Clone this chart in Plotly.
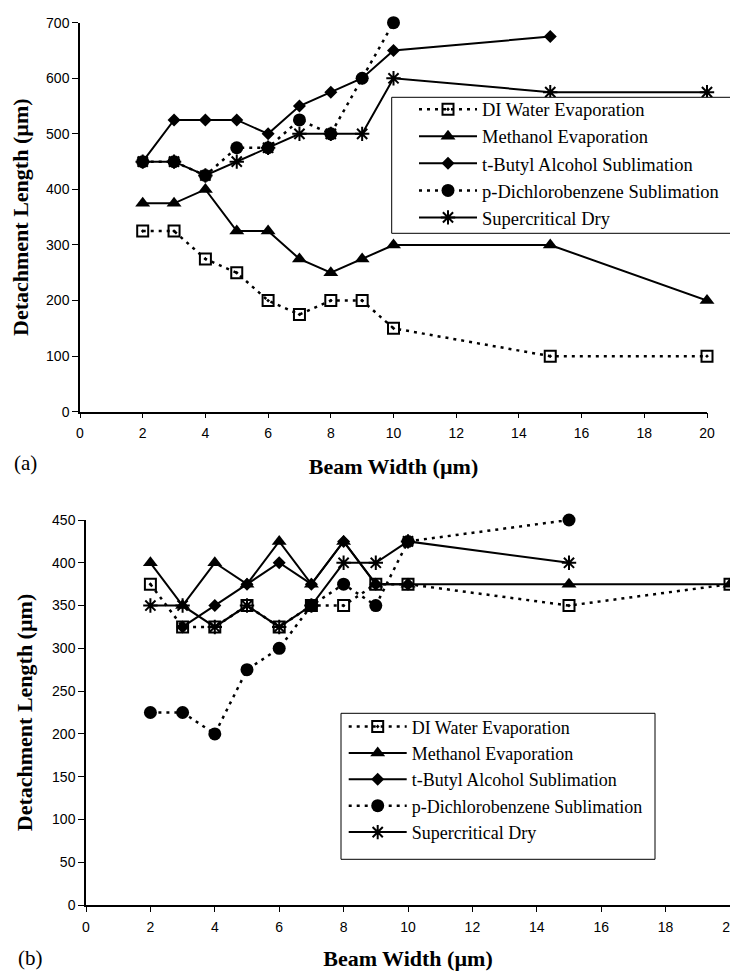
import plotly.graph_objects as go

# ---------------- data ----------------
series_names = ["DI Water Evaporation", "Methanol Evaporation", "t-Butyl Alcohol Sublimation",
                "p-Dichlorobenzene Sublimation", "Supercritical Dry"]

# (a)
a_x_full = [2, 3, 4, 5, 6, 7, 8, 9, 10, 15, 20]
a_water = [325, 325, 275, 250, 200, 175, 200, 200, 150, 100, 100]
a_methanol = [375, 375, 400, 325, 325, 275, 250, 275, 300, 300, 200]
a_tba_x = [2, 3, 4, 5, 6, 7, 8, 9, 10, 15]
a_tba = [450, 525, 525, 525, 500, 550, 575, 600, 650, 675]
a_pdcb_x = [2, 3, 4, 5, 6, 7, 8, 9, 10]
a_pdcb = [450, 450, 425, 475, 475, 525, 500, 600, 700]
a_scd = [450, 450, 425, 450, 475, 500, 500, 500, 600, 575, 575]

# (b)
b_x_full = [2, 3, 4, 5, 6, 7, 8, 9, 10, 15, 20]
b_water = [375, 325, 325, 350, 325, 350, 350, 375, 375, 350, 375]
b_methanol = [400, 350, 400, 375, 425, 375, 425, 375, 375, 375, 375]
b_tba_x = [3, 4, 5, 6, 7, 8, 9, 10]
b_tba = [325, 350, 375, 400, 375, 425, 375, 375]
b_pdcb_x = [2, 3, 4, 5, 6, 7, 8, 9, 10, 15]
b_pdcb = [225, 225, 200, 275, 300, 350, 375, 350, 425, 450]
b_scd_x = [2, 3, 4, 5, 6, 7, 8, 9, 10, 15]
b_scd = [350, 350, 325, 350, 325, 350, 400, 400, 425, 400]

x_ticks = [0, 2, 4, 6, 8, 10, 12, 14, 16, 18, 20]

# ---------------- styles ----------------
DOT = "3px,5px"
styles = [
    dict(line=dict(color="black", width=2.5, dash=DOT),
         marker=dict(symbol="square-open-dot", size=11, color="black", line=dict(width=2, color="black"))),
    dict(line=dict(color="black", width=2),
         marker=dict(symbol="triangle-up", size=13, color="black")),
    dict(line=dict(color="black", width=2),
         marker=dict(symbol="diamond", size=10, color="black")),
    dict(line=dict(color="black", width=2.5, dash=DOT),
         marker=dict(symbol="circle", size=13, color="black")),
    dict(line=dict(color="black", width=2),
         marker=dict(symbol="asterisk-open", size=12, color="black", line=dict(width=2, color="black"))),
]

# page body adds an 8px offset; figure coordinates below are screen pixels minus 8
W, H = 730, 963
OFF = 8


def px_x(p):
    return (p - OFF) / W


def px_y(p):
    return 1 - (p - OFF) / H


fig = go.Figure()

a_sets = [(a_x_full, a_water), (a_x_full, a_methanol), (a_tba_x, a_tba), (a_pdcb_x, a_pdcb), (a_x_full, a_scd)]
b_sets = [(b_x_full, b_water), (b_x_full, b_methanol), (b_tba_x, b_tba), (b_pdcb_x, b_pdcb), (b_scd_x, b_scd)]

for i, (xs, ys) in enumerate(a_sets):
    fig.add_trace(go.Scatter(x=xs, y=ys, mode="lines+markers", name=series_names[i],
                             xaxis="x", yaxis="y", legend="legend", cliponaxis=False, **styles[i]))
for i, (xs, ys) in enumerate(b_sets):
    fig.add_trace(go.Scatter(x=xs, y=ys, mode="lines+markers", name=series_names[i],
                             xaxis="x2", yaxis="y2", legend="legend2", cliponaxis=False, **styles[i]))

tickfont = dict(family="Liberation Sans, Arial, sans-serif", size=14, color="black")
titlefont = dict(family="Liberation Serif, Times New Roman, serif", size=22, color="black")
serif = "Liberation Serif, Times New Roman, serif"


def xaxis(domain, anchor):
    return dict(domain=domain, anchor=anchor, range=[0, 20], tickvals=x_ticks, automargin=False,
                showline=True, linecolor="black", linewidth=1.5, showgrid=False, zeroline=False,
                ticks="outside", ticklen=5, tickcolor="black", tickfont=tickfont, ticklabelstandoff=3,
                title=dict(text="<b>Beam Width (µm)</b>", font=titlefont, standoff=18))


def yaxis(domain, anchor, rng, dtick):
    return dict(domain=domain, anchor=anchor, range=rng, dtick=dtick, automargin=False,
                showline=True, linecolor="black", linewidth=1.5, showgrid=False, zeroline=False,
                ticks="outside", ticklen=6, tickcolor="black", tickfont=tickfont,
                title=dict(text="<b>Detachment Length (µm)</b>", font=titlefont, standoff=13))


fig.update_layout(
    width=W, height=H,
    margin=dict(l=0, r=0, t=0, b=0, autoexpand=False),
    paper_bgcolor="white", plot_bgcolor="white",
    xaxis=xaxis([px_x(80), px_x(707)], "y"),
    yaxis=yaxis([px_y(411.7), px_y(22.7)], "x", [0, 700], 100),
    xaxis2=xaxis([px_x(86), px_x(730)], "y2"),
    yaxis2=yaxis([px_y(905), px_y(520)], "x2", [0, 450], 50),
    legend=dict(x=px_x(414), y=px_y(90.7), xanchor="left", yanchor="top",
                bgcolor="rgba(0,0,0,0)", borderwidth=0,
                font=dict(family=serif, size=18.5, color="black"), itemwidth=58, tracegroupgap=0),
    legend2=dict(x=px_x(343.7), y=px_y(708.3), xanchor="left", yanchor="top",
                 bgcolor="rgba(0,0,0,0)", borderwidth=0,
                 font=dict(family=serif, size=18, color="black"), itemwidth=58, tracegroupgap=0),
    shapes=[
        dict(type="rect", xref="paper", yref="paper", layer="above",
             x0=px_x(391.7), x1=px_x(760), y0=px_y(233.3), y1=px_y(97.3),
             line=dict(color="black", width=1), fillcolor="white"),
        dict(type="rect", xref="paper", yref="paper", layer="above",
             x0=px_x(341), x1=px_x(655), y0=px_y(859.3), y1=px_y(713.3),
             line=dict(color="black", width=1), fillcolor="white"),
    ],
    annotations=[
        dict(text="(a)", x=px_x(12), y=px_y(463), xref="paper", yref="paper",
             xanchor="left", yanchor="middle", showarrow=False,
             font=dict(family=serif, size=21, color="black")),
        dict(text="(b)", x=px_x(16), y=px_y(958), xref="paper", yref="paper",
             xanchor="left", yanchor="middle", showarrow=False,
             font=dict(family=serif, size=21, color="black")),
    ],
)

fig.write_html("out.html")
